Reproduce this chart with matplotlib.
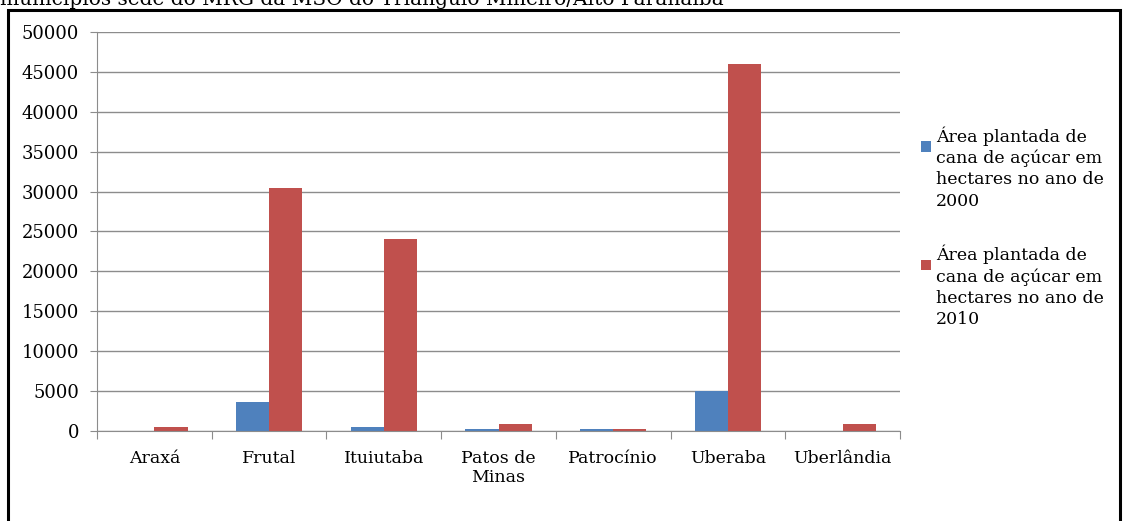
import numpy as np
import matplotlib.pyplot as plt
from matplotlib.patches import Rectangle
from matplotlib.legend_handler import HandlerPatch

municipios = ['Araxá', 'Frutal', 'Ituiutaba', 'Patos de\nMinas', 'Patrocínio', 'Uberaba', 'Uberlândia']
area_2000 = [0, 3600, 500, 200, 200, 5000, 0]
area_2010 = [500, 30500, 24000, 850, 200, 46000, 850]
legenda = ['Área plantada de\ncana de açúcar em\nhectares no ano de\n2000',
           'Área plantada de\ncana de açúcar em\nhectares no ano de\n2010']
yticks = np.arange(0, 50001, 5000)

plt.rcParams['font.family'] = ['DejaVu Serif']


class QuadradoNoTopo(HandlerPatch):
    # small square aligned with the first line of a multi-line label
    def create_artists(self, legend, orig_handle, xdescent, ydescent,
                       width, height, fontsize, trans):
        s = fontsize * 0.6
        cor = orig_handle.patches[0].get_facecolor()
        p = Rectangle((-xdescent, -ydescent + height - s * 1.45), s, s,
                      facecolor=cor, edgecolor='none')
        p.set_transform(trans)
        return [p]


fig = plt.figure(figsize=(11.23, 5.21), dpi=100)
W, H = 1123, 521
ax = fig.add_axes([97 / W, (H - 431) / H, (900 - 97) / W, (431 - 32) / H])

x = np.arange(len(municipios))
w = 0.29
b1 = ax.bar(x - w / 2, area_2000, w, color='#4f81bd', label=legenda[0])
b2 = ax.bar(x + w / 2, area_2010, w, color='#c0504d', label=legenda[1])

ax.set_ylim(0, 50000)
ax.set_xlim(-0.5, len(municipios) - 0.5)
ax.set_yticks(yticks)
ax.set_yticklabels([str(v) for v in yticks], fontsize=13)
ax.yaxis.grid(True, color='#8c8c8c', linewidth=1)
ax.set_axisbelow(True)

# ticks between categories on the x axis
ax.set_xticks(np.arange(-0.5, len(municipios), 1))
ax.set_xticklabels([])
ax.set_xticks(x, minor=True)
ax.set_xticklabels(municipios, minor=True, fontsize=12.5, linespacing=1.1)
ax.tick_params(axis='x', which='minor', length=0, pad=14)
ax.tick_params(axis='x', which='major', length=6, color='#8c8c8c')
ax.tick_params(axis='y', length=5, color='#8c8c8c', pad=8)

for s in ['top', 'right']:
    ax.spines[s].set_visible(False)
ax.spines['left'].set_color('#8c8c8c')
ax.spines['bottom'].set_color('#8c8c8c')

hm = QuadradoNoTopo()
leg = ax.legend(loc='upper left', bbox_to_anchor=(921 / W, (H - 126) / H),
                bbox_transform=fig.transFigure, frameon=False, fontsize=12.5,
                handlelength=0.6, handleheight=5.6, handletextpad=0.25,
                labelspacing=2.0, borderaxespad=0, borderpad=0,
                handler_map={b1: hm, b2: hm})
for t in leg.get_texts():
    t.set_linespacing(1.32)

# outer frame of the chart
fig.patches.append(Rectangle((8 / W, -0.2), (1120 - 8) / W, 1.2 - 10 / H,
                             transform=fig.transFigure, fill=False,
                             edgecolor='black', linewidth=2.2))

fig.text(0.0, 1 - 5 / H, 'municípios sede do MRG da MSO do Triângulo Mineiro/Alto Paranaíba',
         fontsize=14.5, va='baseline', ha='left')

fig.savefig('out.png', dpi=100)
